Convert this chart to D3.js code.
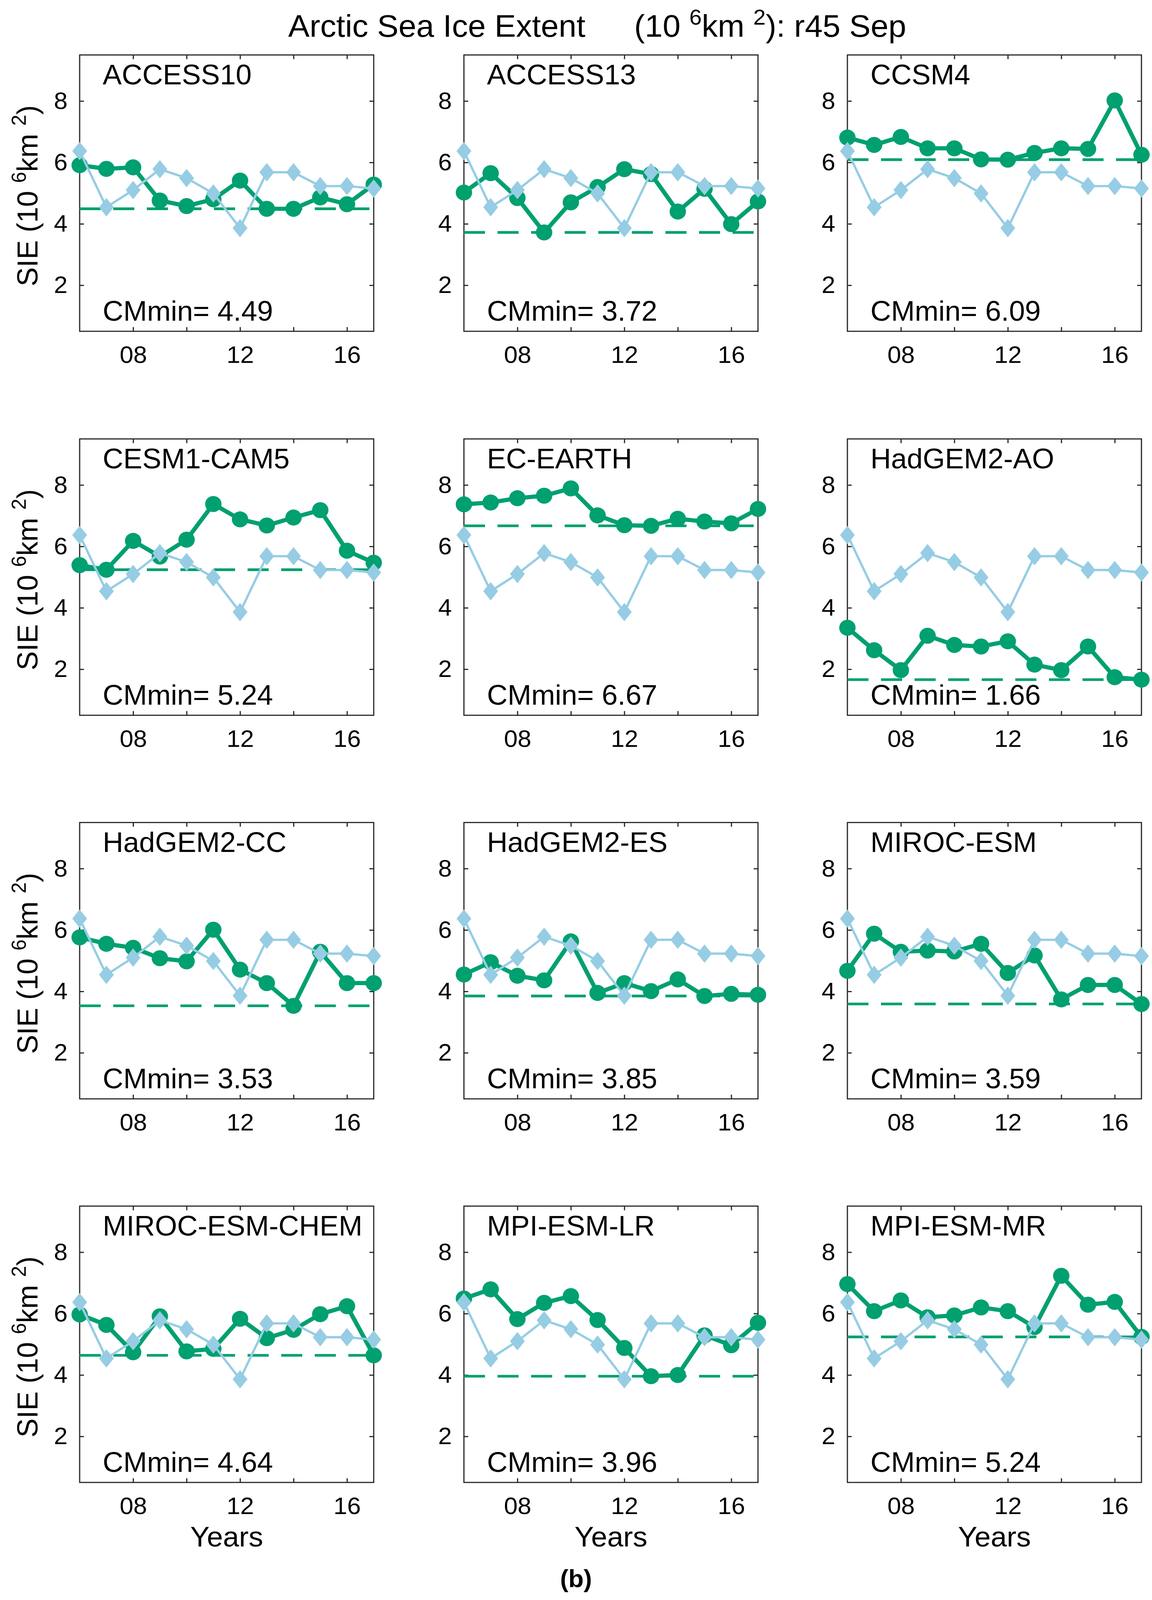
<!DOCTYPE html>
<html>
<head>
<meta charset="utf-8">
<script src="https://cdn.jsdelivr.net/npm/d3@7"></script>
<style>
  body { margin: 0; background: #fff; overflow: hidden; }
  svg { display: block; }
  text { font-family: "Liberation Sans", Arial, Helvetica, sans-serif; fill: #000; }
</style>
</head>
<body>
<script>
// years on the x axis
const years = [2006, 2007, 2008, 2009, 2010, 2011, 2012, 2013, 2014, 2015, 2016, 2017];

// observed September extent (same in every panel)
const obsSIE = [6.37, 4.54, 5.10, 5.78, 5.49, 4.99, 3.86, 5.68, 5.68, 5.23, 5.23, 5.15];

// model series
const access10     = [5.91, 5.79, 5.84, 4.76, 4.58, 4.80, 5.41, 4.49, 4.49, 4.86, 4.64, 5.28];
const access13     = [5.02, 5.65, 4.84, 3.72, 4.70, 5.20, 5.78, 5.62, 4.40, 5.14, 3.99, 4.73];
const ccsm4        = [6.81, 6.57, 6.83, 6.46, 6.46, 6.10, 6.09, 6.31, 6.46, 6.44, 8.02, 6.25];
const cesm1cam5    = [5.39, 5.24, 6.18, 5.67, 6.22, 7.38, 6.88, 6.68, 6.94, 7.18, 5.86, 5.47];
const ecEarth      = [7.37, 7.43, 7.57, 7.65, 7.89, 7.01, 6.69, 6.67, 6.90, 6.81, 6.75, 7.22];
const hadgem2ao    = [3.35, 2.62, 1.97, 3.09, 2.79, 2.74, 2.91, 2.15, 1.97, 2.74, 1.74, 1.66];
const hadgem2cc    = [5.76, 5.55, 5.42, 5.08, 4.98, 6.01, 4.71, 4.27, 3.53, 5.29, 4.27, 4.27];
const hadgem2es    = [4.55, 4.95, 4.51, 4.36, 5.63, 3.95, 4.27, 4.01, 4.39, 3.85, 3.92, 3.89];
const mirocEsm     = [4.67, 5.88, 5.29, 5.33, 5.30, 5.55, 4.60, 5.17, 3.74, 4.21, 4.21, 3.59];
const mirocEsmChem = [5.97, 5.63, 4.74, 5.91, 4.77, 4.85, 5.83, 5.20, 5.47, 5.98, 6.24, 4.64];
const mpiEsmLr     = [6.49, 6.79, 5.82, 6.35, 6.57, 5.79, 4.88, 3.96, 4.00, 5.29, 4.97, 5.70];
const mpiEsmMr     = [6.96, 6.08, 6.43, 5.88, 5.94, 6.20, 6.08, 5.56, 7.23, 6.29, 6.38, 5.24];

const modelNames = ["ACCESS10", "ACCESS13", "CCSM4", "CESM1-CAM5", "EC-EARTH", "HadGEM2-AO",
                    "HadGEM2-CC", "HadGEM2-ES", "MIROC-ESM", "MIROC-ESM-CHEM", "MPI-ESM-LR", "MPI-ESM-MR"];
const modelSIE = [access10, access13, ccsm4, cesm1cam5, ecEarth, hadgem2ao,
                  hadgem2cc, hadgem2es, mirocEsm, mirocEsmChem, mpiEsmLr, mpiEsmMr];
const cmMin = [4.49, 3.72, 6.09, 5.24, 6.67, 1.66, 3.53, 3.85, 3.59, 4.64, 3.96, 5.24];

// ticks
const yTicks = [2, 4, 6, 8];
const xTicks = [2008, 2010, 2012, 2014, 2016];
const xTickLabels = ["08", "", "12", "", "16"];

// layout is drawn in a 2950x4192 frame and stretched to the real window
const W = 2950, H = 4192;
const green = "#00a070", sky = "#96cde4", axisCol = "#262626";

const colLeft = [204, 1188, 2170];
const rowTop = [144, 1150, 2155, 3160];
const pw = 753, ph = 724;

const x = d3.scaleLinear().domain([2006, 2017]).range([0, pw]);
const y = d3.scaleLinear().domain([0.5, 9.5]).range([ph, 0]);

const svg = d3.select("body")
              .append("svg")
              .attr("width", window.innerWidth || W)
              .attr("height", window.innerHeight || H)
              .attr("viewBox", `0 0 ${W} ${H}`)
              .attr("preserveAspectRatio", "none");

svg.append("rect").attr("width", W).attr("height", H).attr("fill", "#fff");

// diamond marker a bit narrower than tall
const diamond = {
  draw(ctx, size) {
    const hw = 19, hh = 24;
    ctx.moveTo(0, -hh); ctx.lineTo(hw, 0); ctx.lineTo(0, hh); ctx.lineTo(-hw, 0); ctx.closePath();
  }
};

const line = d3.line()
               .x((d, i) => x(years[i]))
               .y(d => y(d));

modelNames.forEach((name, k) => {
  const col = k % 3, row = Math.floor(k / 3);
  const g = svg.append("g")
               .attr("transform", `translate(${colLeft[col]},${rowTop[row]})`);

  // axes, ticks pointing inwards
  const tickStyle = sel => {
    sel.select(".domain").remove();
    sel.selectAll(".tick line").attr("stroke", axisCol).attr("stroke-width", 3);
    sel.selectAll(".tick text").attr("font-size", 63).attr("font-family", "Liberation Sans, Arial, sans-serif").attr("fill", "#000");
  };
  g.append("g").attr("transform", `translate(0,${ph})`)
   .call(d3.axisBottom(x).tickValues(xTicks).tickSize(-11).tickPadding(38)
           .tickFormat((d, i) => xTickLabels[i]))
   .call(tickStyle);
  g.append("g")
   .call(d3.axisTop(x).tickValues(xTicks).tickSize(-11).tickFormat(""))
   .call(tickStyle);
  g.append("g")
   .call(d3.axisLeft(y).tickValues(yTicks).tickSize(-11).tickPadding(31).tickFormat(d3.format("d")))
   .call(tickStyle);
  g.append("g").attr("transform", `translate(${pw},0)`)
   .call(d3.axisRight(y).tickValues(yTicks).tickSize(-11).tickFormat(""))
   .call(tickStyle);

  g.append("rect")
   .attr("width", pw).attr("height", ph)
   .attr("fill", "none").attr("stroke", axisCol).attr("stroke-width", 3);

  // model series
  const sie = modelSIE[k];
  g.append("path").datum(sie)
   .attr("d", line).attr("fill", "none")
   .attr("stroke", green).attr("stroke-width", 11).attr("stroke-linejoin", "round");
  g.selectAll("circle.m").data(sie).enter().append("circle")
   .attr("class", "m")
   .attr("cx", (d, i) => x(years[i]))
   .attr("cy", d => y(d))
   .attr("r", 21)
   .attr("fill", green);

  // CMmin dashed line
  g.append("path").datum([cmMin[k], cmMin[k]])
   .attr("d", d3.line().x((d, i) => x(i ? 2017 : 2006)).y(d => y(d)))
   .attr("stroke", green).attr("stroke-width", 7).attr("stroke-dasharray", "54,32");

  // observations on top
  g.append("path").datum(obsSIE)
   .attr("d", line).attr("fill", "none")
   .attr("stroke", sky).attr("stroke-width", 6);
  g.selectAll("path.o").data(obsSIE).enter().append("path")
   .attr("class", "o")
   .attr("transform", (d, i) => `translate(${x(years[i])},${y(d)})`)
   .attr("d", d3.symbol().type(diamond))
   .attr("fill", sky);

  g.append("text").attr("x", 59).attr("y", 77)
   .attr("font-size", 73).text(name);
  g.append("text").attr("x", 59).attr("y", 696)
   .attr("font-size", 73).text("CMmin= " + cmMin[k].toFixed(2));

  if (col === 0) {
    const t = g.append("text")
               .attr("transform", `translate(-108,${ph / 2 + 7}) rotate(-90)`)
               .attr("text-anchor", "middle")
               .attr("font-size", 75);
    t.append("tspan").text("SIE (10 ");
    t.append("tspan").attr("font-size", 52).attr("dy", -30).text("6");
    t.append("tspan").attr("dy", 30).text("km ");
    t.append("tspan").attr("font-size", 52).attr("dy", -30).text("2");
    t.append("tspan").attr("dy", 30).text(")");
  }
  if (row === 3) {
    g.append("text").attr("x", pw / 2).attr("y", 4052 - rowTop[row])
     .attr("text-anchor", "middle").attr("font-size", 74).text("Years");
  }
});

// title
svg.append("text").attr("x", 738).attr("y", 96).attr("font-size", 82)
   .text("Arctic Sea Ice Extent");
const tt = svg.append("text").attr("x", 1624).attr("y", 96).attr("font-size", 82);
tt.append("tspan").text("(10 ");
tt.append("tspan").attr("font-size", 57).attr("dy", -32).text("6");
tt.append("tspan").attr("dy", 32).text("km ");
tt.append("tspan").attr("font-size", 57).attr("dy", -32).text("2");
tt.append("tspan").attr("dy", 32).text("): r45 Sep");

svg.append("text").attr("x", 1475).attr("y", 4158)
   .attr("text-anchor", "middle")
   .attr("font-family", "Liberation Serif, Times New Roman, serif")
   .attr("font-weight", "bold").attr("font-size", 64)
   .text("(b)");
</script>
</body>
</html>
